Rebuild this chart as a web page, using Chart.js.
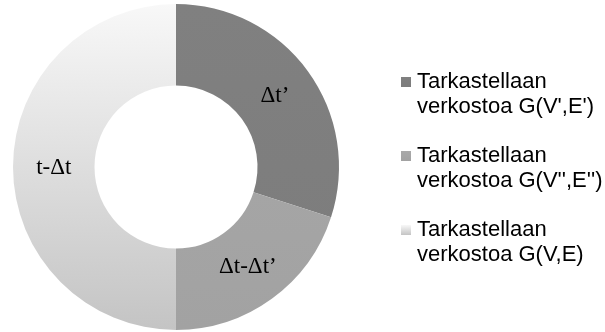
<!DOCTYPE html>
<html>
<head>
<meta charset="utf-8">
<script src="https://cdn.jsdelivr.net/npm/chart.js@4/dist/chart.umd.min.js"></script>
<style>
  html, body { margin: 0; padding: 0; background: #ffffff; }
  #wrap { width: 605px; height: 332px; position: relative; }
</style>
</head>
<body>
<div id="wrap"><canvas id="c" width="605" height="332"></canvas></div>
<script>
// Time shares of the three phases
const sliceLabels = ['\u0394t\u2019', '\u0394t-\u0394t\u2019', 't-\u0394t'];
const sliceValues = [30, 20, 50];
// Legend entries, one line per array element
const legendLines = [
  ['Tarkastellaan', "verkostoa G(V',E')"],
  ['Tarkastellaan', "verkostoa G(V'',E'')"],
  ['Tarkastellaan', 'verkostoa G(V,E)']
];

// Vertical grey ramps for each slice (top colour, bottom colour)
const sliceShades = [
  ['#808080', '#7c7c7c'],
  ['#a9a9a9', '#a2a2a2'],
  ['#f8f8f8', '#c4c4c4']
];

function shade(ctx) {
  const chart = ctx.chart;
  const area = chart.chartArea;
  const pair = sliceShades[ctx.dataIndex % sliceShades.length];
  if (!area) return pair[0];
  const g = chart.ctx.createLinearGradient(0, area.top, 0, area.bottom);
  g.addColorStop(0, pair[0]);
  g.addColorStop(1, pair[1]);
  return g;
}

// Writes each slice's name at the middle of its ring segment
const sliceText = {
  id: 'sliceText',
  afterDatasetsDraw(chart) {
    const ctx = chart.ctx;
    const meta = chart.getDatasetMeta(0);
    ctx.save();
    ctx.font = '23px "Liberation Serif", "Times New Roman", serif';
    ctx.fillStyle = '#000000';
    ctx.textAlign = 'center';
    ctx.textBaseline = 'middle';
    meta.data.forEach((arc, i) => {
      const p = arc.tooltipPosition();
      ctx.fillText(chart.data.labels[i], p.x, p.y + 1);
    });
    ctx.restore();
  }
};

// Two-line legend at the right, squares filled like the slices
const sideLegend = {
  id: 'sideLegend',
  afterDraw(chart) {
    const ctx = chart.ctx;
    ctx.save();
    ctx.font = '22px "Liberation Sans", Arial, sans-serif';
    ctx.fillStyle = '#000000';
    ctx.textAlign = 'left';
    ctx.textBaseline = 'alphabetic';
    const x0 = 401, tx = 417, firstBase = 88, step = 74, lineH = 25;
    legendLines.forEach((lines, i) => {
      const base = firstBase + i * step;
      const pair = sliceShades[i];
      const g = ctx.createLinearGradient(0, base - 11, 0, base - 1);
      g.addColorStop(0, pair[0]);
      g.addColorStop(1, pair[1]);
      ctx.fillStyle = g;
      ctx.fillRect(x0, base - 11, 10, 10);
      ctx.fillStyle = '#000000';
      lines.forEach((t, j) => ctx.fillText(t, tx, base + j * lineH));
    });
    ctx.restore();
  }
};

new Chart(document.getElementById('c'), {
  type: 'doughnut',
  data: {
    labels: sliceLabels,
    datasets: [{
      data: sliceValues,
      backgroundColor: shade,
      borderWidth: 0,
      hoverOffset: 0
    }]
  },
  options: {
    responsive: false,
    animation: false,
    cutout: '50%',
    layout: { padding: { left: 13, right: 266, top: 4, bottom: 2 } },
    plugins: {
      legend: { display: false },
      tooltip: { enabled: false }
    }
  },
  plugins: [sliceText, sideLegend]
});
</script>
</body>
</html>
